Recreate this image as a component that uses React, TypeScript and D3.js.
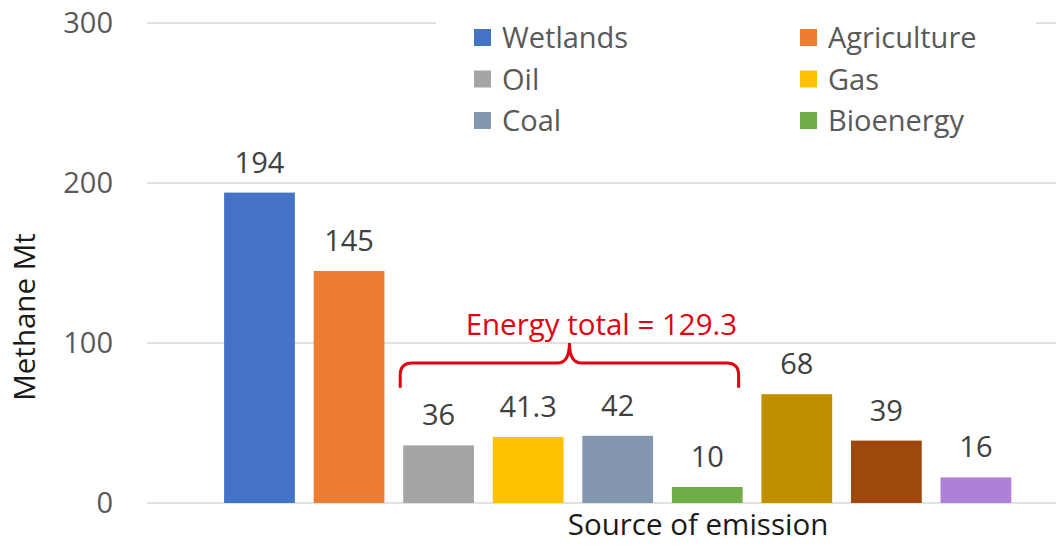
import React from 'react';
import * as d3 from 'd3';

const useD3 = (renderChart: any, dependencies: any[]) => {
  const ref = React.useRef<SVGSVGElement>(null);

  React.useEffect(() => {
    renderChart(d3.select(ref.current));
  }, dependencies);

  return ref;
};

const sources = ['Wetlands', 'Agriculture', 'Oil', 'Gas', 'Coal', 'Bioenergy', 'Waste', 'Other natural', 'Biomass burning'];
const values = [194, 145, 36, 41.3, 42, 10, 68, 39, 16];
const valueLabels = ['194', '145', '36', '41.3', '42', '10', '68', '39', '16'];
const colors = ['#4472C4', '#ED7D31', '#A5A5A5', '#FFC000', '#8497B0', '#70AD47', '#BF8F00', '#9E480E', '#AF80D8'];
const legendNames = ['Wetlands', 'Agriculture', 'Oil', 'Gas', 'Coal', 'Bioenergy'];
const yTicks = [0, 100, 200, 300];
const energySources = ['Oil', 'Bioenergy'];
const energyLabel = 'Energy total = 129.3';

const FONT = '"Open Sans", Lato, sans-serif';

const renderChart = (svg: any) => {
  const width = 1056;
  const height = 546;
  svg.attr('width', width).attr('height', height);
  svg.selectAll('*').remove();

  const yScale = d3.scaleLinear().domain([0, 300]).range([503, 23]);
  const xScale = d3
    .scaleBand()
    .domain(sources)
    .range([214.7, 1020.7])
    .paddingInner(0.21)
    .paddingOuter(0.105);

  // gridlines
  svg
    .append('g')
    .selectAll('line')
    .data(yTicks)
    .join('line')
    .attr('x1', 147)
    .attr('x2', width)
    .attr('y1', (d: number) => yScale(d))
    .attr('y2', (d: number) => yScale(d))
    .attr('stroke', '#D9D9D9')
    .attr('stroke-width', 1.5);

  // y tick labels
  svg
    .append('g')
    .selectAll('text')
    .data(yTicks)
    .join('text')
    .attr('x', 113)
    .attr('y', (d: number) => yScale(d))
    .attr('dy', '0.36em')
    .attr('text-anchor', 'end')
    .attr('font-family', FONT)
    .attr('font-size', 29)
    .attr('fill', '#595959')
    .text((d: number) => d);

  // bars
  svg
    .append('g')
    .selectAll('rect')
    .data(sources)
    .join('rect')
    .attr('x', (d: string) => xScale(d))
    .attr('width', xScale.bandwidth())
    .attr('y', (_: string, i: number) => yScale(values[i]))
    .attr('height', (_: string, i: number) => yScale(0) - yScale(values[i]))
    .attr('fill', (_: string, i: number) => colors[i]);

  // value labels
  svg
    .append('g')
    .selectAll('text')
    .data(sources)
    .join('text')
    .attr('x', (d: string) => (xScale(d) as number) + xScale.bandwidth() / 2)
    .attr('y', (_: string, i: number) => yScale(values[i]) - 20)
    .attr('text-anchor', 'middle')
    .attr('font-family', FONT)
    .attr('font-size', 29)
    .attr('fill', '#404040')
    .text((_: string, i: number) => valueLabels[i]);

  // energy brace
  const x0 = (xScale(energySources[0]) as number) - 3;
  const x1 = (xScale(energySources[1]) as number) + xScale.bandwidth() - 4;
  const xm = (x0 + x1) / 2;
  const yb = yScale(72);
  const yt = yScale(87.5);
  const yp = yScale(100);
  const r = 12;
  const brace = `M${x0},${yb} L${x0},${yt + r} Q${x0},${yt} ${x0 + r},${yt} L${xm - r},${yt} Q${xm},${yt} ${xm},${yp} Q${xm},${yt} ${xm + r},${yt} L${x1 - r},${yt} Q${x1},${yt} ${x1},${yt + r} L${x1},${yb}`;
  svg
    .append('path')
    .attr('d', brace)
    .attr('fill', 'none')
    .attr('stroke', '#E3000F')
    .attr('stroke-width', 3);
  svg
    .append('text')
    .attr('x', xm + 32)
    .attr('y', yScale(105))
    .attr('text-anchor', 'middle')
    .attr('font-family', FONT)
    .attr('font-size', 29.5)
    .attr('fill', '#E3000F')
    .text(energyLabel);

  // legend
  const legend = svg.append('g');
  legend
    .append('rect')
    .attr('x', 436)
    .attr('y', 10)
    .attr('width', 600)
    .attr('height', 135)
    .attr('fill', '#fff');
  const items = legend
    .selectAll('g')
    .data(legendNames)
    .join('g')
    .attr('transform', (_: string, i: number) => `translate(${i % 2 === 0 ? 474 : 800}, ${38 + Math.floor(i / 2) * 41.5})`);
  items
    .append('rect')
    .attr('x', 0)
    .attr('y', -9)
    .attr('width', 17)
    .attr('height', 17)
    .attr('fill', (d: string) => colors[sources.indexOf(d)]);
  items
    .append('text')
    .attr('x', 28)
    .attr('y', 0)
    .attr('dy', '0.36em')
    .attr('font-family', FONT)
    .attr('font-size', 29)
    .attr('fill', '#595959')
    .text((d: string) => d);

  // axis titles
  svg
    .append('text')
    .attr('transform', `translate(35, 317) rotate(-90)`)
    .attr('text-anchor', 'middle')
    .attr('font-family', FONT)
    .attr('font-size', 29.5)
    .attr('fill', '#1a1a1a')
    .text('Methane Mt');
  svg
    .append('text')
    .attr('x', 698)
    .attr('y', 535)
    .attr('text-anchor', 'middle')
    .attr('font-family', FONT)
    .attr('font-size', 29.5)
    .attr('fill', '#1a1a1a')
    .text('Source of emission');
};

const App: React.FC = () => {
  const ref = useD3(renderChart, []);

  return (
    <svg
      ref={ref}
      style={{ position: 'absolute', left: 0, top: 0, background: '#fff' }}
    />
  );
};

export default App;
